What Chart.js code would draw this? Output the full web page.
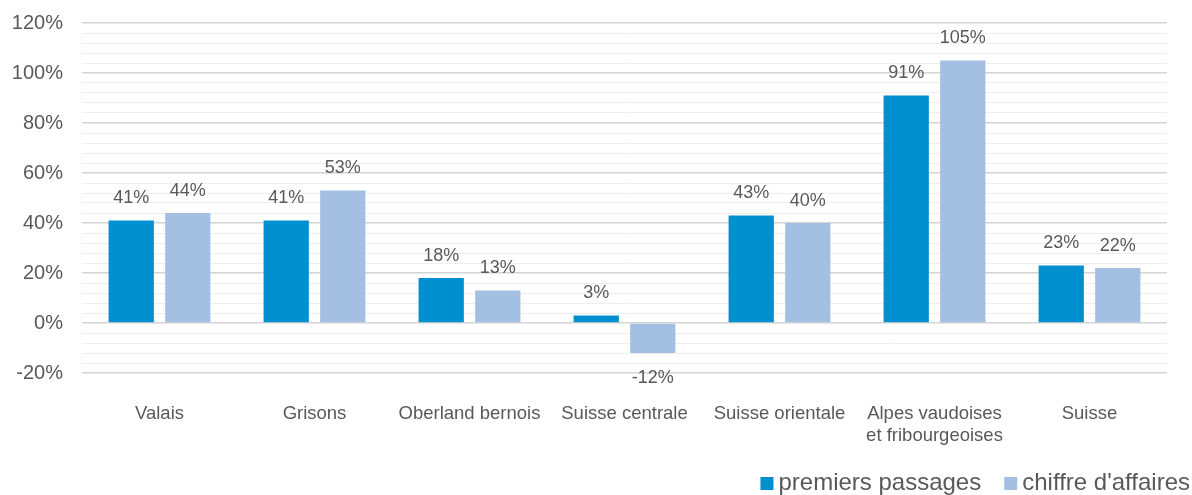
<!DOCTYPE html>
<html>
<head>
<meta charset="utf-8">
<script src="https://cdn.jsdelivr.net/npm/chart.js@4.4.0/dist/chart.umd.min.js"></script>
<style>
  html, body { margin: 0; padding: 0; background: #fff; }
  #wrap { width: 1192px; height: 495px; }
</style>
</head>
<body>
<div id="wrap"><canvas id="myChart"></canvas></div>
<script>
var regions = ['Valais', 'Grisons', 'Oberland bernois', 'Suisse centrale', 'Suisse orientale', ['Alpes vaudoises', 'et fribourgeoises'], 'Suisse'];
var premiersPassages = [41, 41, 18, 3, 43, 91, 23];
var chiffreAffaires = [44, 53, 13, -12, 40, 105, 22];
var seriesNames = ['premiers passages', "chiffre d'affaires"];
var seriesColors = ['#0090CF', '#A3BFE2'];

var textColor = '#595959';
var fontFamily = '"Liberation Sans", Arial, sans-serif';

// labels above (or below for negatives) each bar
var valueLabels = {
	id: 'valueLabels',
	afterDatasetsDraw: function(chart) {
		var ctx = chart.ctx;
		ctx.save();
		ctx.font = '18px ' + fontFamily;
		ctx.fillStyle = textColor;
		ctx.textAlign = 'center';
		ctx.textBaseline = 'middle';
		chart.data.datasets.forEach(function(ds, i) {
			chart.getDatasetMeta(i).data.forEach(function(bar, j) {
				var v = ds.data[j];
				var y = v >= 0 ? bar.y - 22 : bar.y + 25;
				ctx.fillText(Math.round(v) + '%', bar.x, y);
			});
		});
		ctx.restore();
	}
};

// compact legend at the bottom right, like the original
var bottomLegend = {
	id: 'bottomLegend',
	afterDraw: function(chart) {
		var ctx = chart.ctx;
		ctx.save();
		ctx.font = '24px ' + fontFamily;
		ctx.textBaseline = 'middle';
		var x = chart.width - 2, y = chart.height - 12;
		for (var i = chart.data.datasets.length - 1; i >= 0; i--) {
			var ds = chart.data.datasets[i];
			var w = ctx.measureText(ds.label).width;
			x -= w;
			ctx.fillStyle = textColor;
			ctx.fillText(ds.label, x, y);
			x -= 18;
			ctx.fillStyle = ds.backgroundColor;
			ctx.fillRect(x, y - 6, 13, 13);
			x -= 23;
		}
		ctx.restore();
	}
};

var ctx = document.getElementById('myChart').getContext('2d');
var chart = new Chart(ctx, {
	type: 'bar',
	data: {
		labels: regions,
		datasets: [{
			label: seriesNames[0],
			data: premiersPassages,
			backgroundColor: seriesColors[0]
		}, {
			label: seriesNames[1],
			data: chiffreAffaires,
			backgroundColor: seriesColors[1]
		}]
	},
	options: {
		maintainAspectRatio: false,
		animation: false,
		categoryPercentage: 0.73,
		barPercentage: 0.8,
		layout: { padding: { left: 0, right: 2, top: 23, bottom: 0 } },
		plugins: {
			tooltip: { enabled: false },
			legend: { display: false }
		},
		scales: {
			x: {
				grid: { display: false, drawTicks: false },
				border: { display: false },
				ticks: {
					color: textColor,
					font: { family: fontFamily, size: 18.5, lineHeight: 1.2 },
					padding: 30,
					maxRotation: 0,
					autoSkip: false
				},
				afterFit: function(scale) { scale.height = 122; }
			},
			y: {
				min: -20,
				max: 120,
				border: { display: false },
				grid: {
					drawTicks: false,
					color: function(c) { return c.tick.value % 20 === 0 ? '#D4D4D4' : '#EEEEEE'; },
					lineWidth: function(c) { return c.tick.value % 20 === 0 ? 1.5 : 1; }
				},
				ticks: {
					stepSize: 4,
					maxTicksLimit: 100,
					autoSkip: false,
					color: textColor,
					font: { family: fontFamily, size: 20 },
					padding: 19,
					callback: function(v) { return v % 20 === 0 ? v + '%' : ''; }
				},
				afterFit: function(scale) {
					scale.width = 82;
					scale.paddingTop = 0;
					scale.paddingBottom = 0;
				}
			},
			yRight: {
				position: 'right',
				display: true,
				grid: { display: false },
				border: { display: false },
				ticks: { display: false },
				afterFit: function(scale) {
					scale.width = 23;
					scale.paddingTop = 0;
					scale.paddingBottom = 0;
				}
			}
		}
	},
	plugins: [valueLabels, bottomLegend]
});
</script>
</body>
</html>
